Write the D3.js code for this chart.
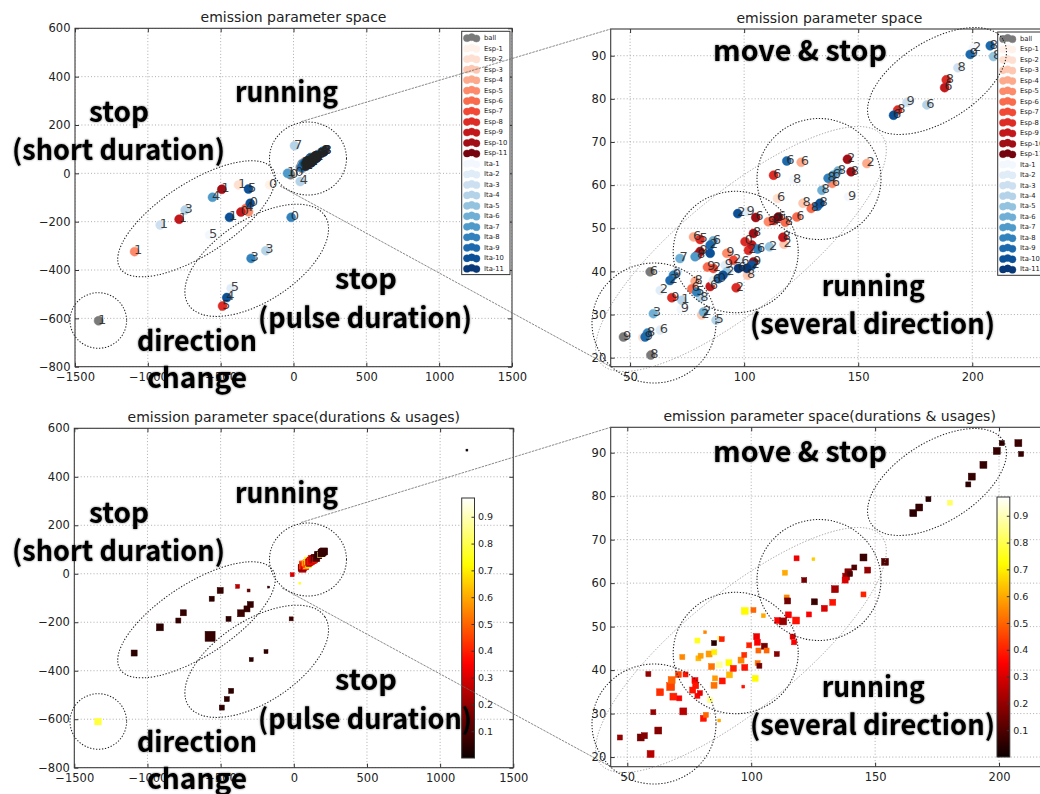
<!DOCTYPE html>
<html>
<head>
<meta charset="utf-8">
<script src="https://cdn.jsdelivr.net/npm/d3@7/dist/d3.min.js"></script>
<style>
  body { margin: 0; background: #fff; }
  svg { display: block; }
</style>
</head>
<body>
<svg id="fig" width="1040" height="794"></svg>
<script>
// ---------------- data ----------------
// emission points: [x, y, label]
const ballPoints = [
  [-1338, -610, "1"], [-20, -6, "0"], [58.8, 39.9, "6"], [47.1, 24.8, "9"], [59.1, 20.6, "8"]
];
// Esp series: [x, y, series index 1..11, label]
const espPoints = [
  [-1091, -324, 5, "1"], [-785, -190, 9, "1"], [-492, -66, 10, "1"], [-378, -48, 2, "1"],
  [-165, -48, 1, "0"], [-361, -160, 9, "0"], [-327, -145, 6, "4"], [-309, -159, 5, ""],
  [-487, -549, 8, "5"],
  [167.3, 77.4, 8, "8"], [187.9, 82.6, 9, "6"], [188.6, 84.4, 8, "8"], [112.9, 62.3, 8, "6"],
  [125.0, 65.3, 4, "6"], [145.3, 66.0, 10, "2"], [153.8, 65.0, 4, "2"], [146.9, 63.1, 10, "8"],
  [138.6, 60.4, 5, "6"], [129.4, 54.6, 6, "8"], [125.8, 55.8, 3, "8"], [123.1, 52.6, 6, "6"],
  [114.6, 56.9, 2, "6"], [105.1, 52.5, 10, "6"], [110.6, 51.5, 5, "9"], [115.0, 52.6, 11, "6"],
  [113.0, 51.8, 8, "2"], [118.0, 51.4, 6, "8"], [117.0, 47.9, 9, "8"], [117.5, 46.3, 3, "2"],
  [80.7, 47.4, 8, "5"], [77.8, 48.0, 4, "6"], [79.5, 43.8, 9, "8"], [80.7, 44.6, 10, "9"],
  [83.9, 41.0, 6, "9"], [86.5, 40.7, 7, "2"], [85.1, 36.5, 9, "6"], [78.5, 37.7, 4, "8"],
  [77.1, 36.0, 6, "6"], [68.3, 33.9, 8, "9"], [81.4, 29.9, 3, "2"], [55.6, 24.7, 2, ""],
  [96.5, 36.2, 8, "2"], [104.1, 48.8, 10, "8"], [103.4, 46.1, 9, ""], [100.4, 46.9, 8, "0"],
  [101.9, 44.9, 8, "2"], [104.1, 42.2, 10, "9"], [95.3, 42.6, 7, "2"], [101.5, 39.1, 3, "8"],
  [92.4, 44.2, 5, "9"]
];
// Ita series: [x, y, series index 1..11, label]
const itaPoints = [
  [-915, -214, 3, "1"], [-744, -152, 4, "3"], [-556, -99, 7, "4"], [-309, -65, 10, "5"],
  [-297, -124, 10, "0"], [-439, -182, 10, "1"], [-577, -255, 1, "5"], [-16, -182, 8, "0"],
  [-190, -320, 4, "3"], [-291, -352, 8, "3"], [-428, -476, 2, "5"], [-458, -514, 10, "4"],
  [7, 114, 4, "7"], [-41, 0, 7, "10"], [46, -34, 4, "4"],
  [165.5, 76.2, 10, "6"], [171.4, 79.2, 3, "9"], [180.1, 78.6, 4, "6"], [193.7, 87.2, 3, "8"],
  [199.1, 90.3, 9, "9"], [200.5, 91.8, 1, "2"], [207.9, 92.3, 9, "8"], [209.3, 89.8, 5, "8"],
  [118.7, 65.6, 9, "6"], [121.6, 61.2, 1, "8"], [141.2, 63.3, 6, "8"], [139.0, 62.3, 7, "6"],
  [136.8, 61.6, 8, "8"], [134.1, 58.8, 6, "8"], [145.7, 57.3, 1, "9"], [133.3, 55.8, 10, "8"],
  [132.1, 55.1, 9, ""], [111.1, 45.7, 5, "2"], [105.9, 45.2, 8, "6"], [97.2, 53.4, 10, "2"],
  [101.2, 53.8, 2, "9"], [85.1, 46.1, 9, "2"], [86.5, 47.1, 6, "6"], [85.1, 44.2, 10, ""],
  [71.9, 43.0, 6, "7"], [78.5, 43.4, 7, ""], [91.7, 41.4, 2, "9"], [92.4, 39.9, 5, "2"],
  [90.7, 39.1, 10, ""], [88.7, 38.3, 9, "0"], [86.5, 37.9, 2, "6"], [79.2, 35.2, 8, "5"],
  [81.0, 33.9, 4, "8"], [72.7, 33.3, 4, "1"], [72.4, 31.2, 1, "9"], [67.5, 37.9, 9, "2"],
  [69.0, 39.1, 8, "9"], [70.5, 39.9, 3, ""], [63.2, 35.6, 2, "2"], [60.2, 30.2, 6, "3"],
  [82.2, 30.6, 6, "2"], [87.7, 28.7, 4, "5"], [56.6, 24.8, 9, "9"], [57.6, 25.7, 8, "8"],
  [63.2, 26.4, 2, "6"], [97.5, 40.7, 11, "6"], [99.0, 42.2, 2, "6"], [103.4, 41.4, 10, "2"],
  [101.2, 40.7, 11, ""]
];
// durations & usages: [x, y, usage, duration]
const usagePoints = [
  [-1338, -610, 0.78, 0.35], [-1091, -327, 0.05, 0.30], [-915, -221, 0.05, 0.40],
  [-789, -193, 0.06, 0.21], [-755, -161, 0.06, 0.30], [-561, -103, 0.05, 0.21],
  [-503, -69, 0.06, 0.30], [-384, -52, 0.25, 0.13], [-309, -69, 0.12, 0.07],
  [-172, -55, 0.05, 0.03], [-361, -163, 0.07, 0.40], [-320, -145, 0.06, 0.30],
  [-297, -127, 0.06, 0.30], [-446, -186, 0.05, 0.21], [-572, -258, 0.06, 0.83],
  [-18, -186, 0.07, 0.13], [-190, -321, 0.05, 0.13], [-291, -354, 0.05, 0.13],
  [-428, -483, 0.05, 0.21], [-458, -517, 0.05, 0.21], [-492, -552, 0.05, 0.21],
  [1183, 510, 0.0, 0.03], [41, -39, 0.75, 0.03], [-11, -4, 0.3, 0.13],
  [47.0, 24.5, 0.2, 0.21], [55.4, 24.5, 0.15, 0.40], [56.9, 24.9, 0.18, 0.30],
  [59.4, 20.7, 0.25, 0.40], [62.5, 26.1, 0.18, 0.40], [60.5, 30.3, 0.2, 0.21],
  [58.5, 39.1, 0.2, 0.21], [63.2, 34.9, 0.42, 0.40], [67.5, 36.2, 0.45, 0.53],
  [67.9, 37.7, 0.5, 0.40], [68.6, 33.9, 0.4, 0.40], [71.0, 33.5, 0.35, 0.21],
  [70.6, 39.0, 0.45, 0.30], [72.6, 30.5, 0.25, 0.40], [73.5, 39.0, 0.38, 0.21],
  [77.3, 37.6, 0.35, 0.30], [77.6, 36.4, 0.38, 0.30], [76.4, 35.4, 0.38, 0.30],
  [78.3, 34.1, 0.35, 0.21], [79.3, 34.7, 0.32, 0.21], [80.7, 28.9, 0.38, 0.30],
  [81.7, 29.7, 0.5, 0.21], [83.4, 33.1, 0.85, 0.21], [87.1, 28.4, 0.6, 0.07],
  [72.2, 43.0, 0.55, 0.21], [78.3, 46.8, 0.75, 0.21], [81.4, 48.7, 0.55, 0.07],
  [78.7, 42.7, 0.62, 0.21], [79.6, 43.3, 0.58, 0.21], [83.0, 43.7, 0.58, 0.30],
  [85.1, 44.1, 0.7, 0.21], [85.0, 46.2, 0.05, 0.21], [87.1, 47.3, 0.85, 0.13],
  [88.1, 47.1, 0.4, 0.21], [84.0, 40.8, 0.52, 0.30], [87.1, 41.2, 0.88, 0.30],
  [85.4, 38.1, 0.58, 0.21], [85.0, 36.5, 0.52, 0.30], [88.3, 37.5, 0.38, 0.30],
  [91.0, 41.7, 0.72, 0.30], [91.2, 38.9, 0.62, 0.30], [92.8, 40.4, 0.4, 0.30],
  [95.9, 42.3, 0.55, 0.30], [97.2, 43.5, 0.42, 0.21], [97.4, 40.6, 0.38, 0.30],
  [96.8, 36.2, 0.38, 0.07], [97.4, 53.6, 0.72, 0.40], [100.9, 53.8, 0.5, 0.21],
  [99.2, 45.7, 0.4, 0.21], [101.6, 38.1, 0.72, 0.30], [102.2, 47.7, 0.33, 0.30],
  [102.5, 46.4, 0.35, 0.30], [102.9, 44.5, 0.5, 0.21], [102.6, 41.6, 0.52, 0.21],
  [103.3, 41.0, 0.15, 0.21], [105.3, 45.5, 0.15, 0.30], [106.2, 44.5, 0.5, 0.21],
  [104.9, 52.5, 0.6, 0.13], [110.3, 43.7, 0.18, 0.21], [113.6, 62.4, 0.6, 0.21],
  [114.3, 56.7, 0.55, 0.21], [114.7, 55.9, 0.15, 0.30], [110.7, 51.4, 0.35, 0.30],
  [112.9, 51.2, 0.2, 0.40], [115.0, 52.7, 0.35, 0.30], [118.1, 51.4, 0.38, 0.40],
  [116.7, 47.7, 0.3, 0.21], [117.3, 46.4, 0.35, 0.21], [118.3, 65.7, 0.33, 0.21],
  [125.1, 65.5, 0.65, 0.07], [121.4, 60.7, 0.15, 0.21], [125.5, 55.7, 0.07, 0.30],
  [123.3, 52.8, 0.35, 0.21], [129.5, 54.2, 0.3, 0.30], [132.9, 55.6, 0.38, 0.30],
  [133.8, 58.6, 0.22, 0.40], [138.3, 61.5, 0.22, 0.40], [139.2, 62.5, 0.18, 0.40],
  [139.9, 62.1, 0.1, 0.21], [137.9, 60.7, 0.3, 0.30], [141.6, 63.6, 0.1, 0.21],
  [145.3, 65.9, 0.07, 0.40], [147.0, 63.0, 0.2, 0.30], [145.3, 57.4, 0.4, 0.21],
  [154.0, 64.9, 0.1, 0.40],
  [165.4, 76.1, 0.05, 0.40], [167.8, 77.4, 0.06, 0.40], [171.5, 79.3, 0.04, 0.21],
  [180.2, 78.5, 0.82, 0.21], [187.6, 82.7, 0.05, 0.21], [189.0, 84.5, 0.06, 0.40],
  [193.7, 87.2, 0.06, 0.40], [199.1, 90.4, 0.06, 0.40], [201.1, 92.2, 0.05, 0.21],
  [207.8, 92.2, 0.07, 0.40], [208.9, 89.7, 0.06, 0.21]
];

const seriesIndex = d3.range(1, 12);
const legendNames = ["ball"].concat(seriesIndex.map(k => "Esp-" + k), seriesIndex.map(k => "Ita-" + k));
const xTicksWide = [-1500, -1000, -500, 0, 500, 1000, 1500];
const yTicksWide = [-800, -600, -400, -200, 0, 200, 400, 600];
const xTicksZoom = [50, 100, 150, 200];
const yTicksZoom = [20, 30, 40, 50, 60, 70, 80, 90];
const usageTicks = [0.1, 0.2, 0.3, 0.4, 0.5, 0.6, 0.7, 0.8, 0.9];
const usageDomain = [0, 0.97];

// ---------------- colours ----------------
const ballColor = "#7a7a7a";
const espColor = k => d3.interpolateReds(0.02 + (k - 1) * 0.095);
const itaColor = k => d3.interpolateBlues(0.02 + (k - 1) * 0.095);
function hot(v) {
  const t = Math.max(0, Math.min(1, (v - usageDomain[0]) / (usageDomain[1] - usageDomain[0])));
  const r = t < 0.365079 ? 0.0416 + t / 0.365079 * (1 - 0.0416) : 1;
  const g = t < 0.365079 ? 0 : t < 0.746032 ? (t - 0.365079) / (0.746032 - 0.365079) : 1;
  const b = t < 0.746032 ? 0 : (t - 0.746032) / (1 - 0.746032);
  return d3.rgb(r * 255, g * 255, b * 255).formatHex();
}
const sideScale = d3.scaleSqrt().domain([0, 1]).range([0, 11]);
const tickFmt = d3.format("d");

// ---------------- layout ----------------
const svg = d3.select("#fig");
const defs = svg.append("defs");
const soft = defs.append("filter").attr("id", "soft")
  .attr("x", "-5%").attr("y", "-25%").attr("width", "110%").attr("height", "150%");
soft.append("feGaussianBlur").attr("in", "SourceAlpha").attr("stdDeviation", 0.9).attr("result", "b");
soft.append("feComponentTransfer").attr("in", "b").attr("result", "b2")
  .append("feFuncA").attr("type", "linear").attr("slope", 0.55);
const merge = soft.append("feMerge");
merge.append("feMergeNode").attr("in", "b2");
merge.append("feMergeNode").attr("in", "SourceGraphic");

const panels = [
  { key: "tl", left: 75, right: 512, top: 28.3, bottom: 366.7, xd: [-1500, 1500], yd: [-800, 600],
    xt: xTicksWide, yt: yTicksWide, title: "emission parameter space", kind: "circles" },
  { key: "tr", left: 610.7, right: 1048, top: 29, bottom: 366.7, xd: [41.5, 233.2], yd: [17.91, 96.19],
    xt: xTicksZoom, yt: yTicksZoom, title: "emission parameter space", kind: "circles" },
  { key: "bl", left: 74.3, right: 513.3, top: 428.3, bottom: 767.7, xd: [-1500, 1500], yd: [-800, 600],
    xt: xTicksWide, yt: yTicksWide, title: "emission parameter space(durations & usages)", kind: "squares" },
  { key: "br", left: 610.7, right: 1048.6, top: 427.3, bottom: 766.7, xd: [43.3, 220.0], yd: [17.78, 95.84],
    xt: xTicksZoom, yt: yTicksZoom, title: "emission parameter space(durations & usages)", kind: "squares" }
];

const circleMarks = [
  ...ballPoints.map(([x, y, lab]) => ({ x, y, lab, order: 0, color: ballColor })),
  ...espPoints.map(([x, y, k, lab]) => ({ x, y, lab, order: k, color: espColor(k) })),
  ...itaPoints.map(([x, y, k, lab]) => ({ x, y, lab, order: 11 + k, color: itaColor(k) }))
].sort((a, b) => a.order - b.order);

const legendColors = [ballColor].concat(seriesIndex.map(espColor), seriesIndex.map(itaColor));

function drawPanel(P) {
  const x = d3.scaleLinear().domain(P.xd).range([P.left, P.right]);
  const y = d3.scaleLinear().domain(P.yd).range([P.bottom, P.top]);
  const g = svg.append("g");
  const clipId = "clip-" + P.key;
  defs.append("clipPath").attr("id", clipId).append("rect")
    .attr("x", P.left).attr("y", P.top).attr("width", P.right - P.left).attr("height", P.bottom - P.top);

  g.append("rect").attr("x", P.left).attr("y", P.top)
    .attr("width", P.right - P.left).attr("height", P.bottom - P.top).attr("fill", "#fff");

  // dotted grid
  const grid = g.append("g").attr("stroke", "#a4a4a4").attr("stroke-width", 0.9)
    .attr("stroke-dasharray", "1,2.2").attr("clip-path", `url(#${clipId})`);
  P.xt.forEach(v => grid.append("line").attr("x1", x(v)).attr("x2", x(v)).attr("y1", P.top).attr("y2", P.bottom));
  P.yt.forEach(v => grid.append("line").attr("y1", y(v)).attr("y2", y(v)).attr("x1", P.left).attr("x2", P.right));

  const plot = g.append("g").attr("clip-path", `url(#${clipId})`);
  if (P.kind === "circles") {
    plot.append("g").selectAll("circle").data(circleMarks).join("circle")
      .attr("cx", d => x(d.x)).attr("cy", d => y(d.y)).attr("r", 4.5)
      .attr("fill", d => d.color).attr("stroke", d => d.color).attr("stroke-width", 0.5);
    plot.append("g").selectAll("text").data(circleMarks.filter(d => d.lab !== "")).join("text")
      .attr("x", d => x(d.x) - 0.5).attr("y", d => y(d.y) + 2.8)
      .attr("font-family", "DejaVu Sans, sans-serif").attr("font-size", 13)
      .attr("fill", "#222").attr("fill-opacity", 0.85).text(d => d.lab);
  } else {
    plot.append("g").selectAll("rect").data(usagePoints).join("rect")
      .attr("x", d => x(d[0]) - sideScale(d[3]) / 2).attr("y", d => y(d[1]) - sideScale(d[3]) / 2)
      .attr("width", d => sideScale(d[3])).attr("height", d => sideScale(d[3]))
      .attr("fill", d => hot(d[2])).attr("stroke", d => hot(d[2])).attr("stroke-width", 0.5);
  }

  // axes with inward ticks on all four sides
  const styleAxis = a => {
    a.select(".domain").remove();
    a.attr("color", "#333").attr("font-family", "DejaVu Sans, sans-serif").attr("font-size", 11.5);
    a.selectAll("text").attr("fill", "#222");
  };
  g.append("g").attr("transform", `translate(0,${P.bottom})`)
    .call(d3.axisBottom(x).tickValues(P.xt).tickFormat(tickFmt).tickSizeInner(-4).tickSizeOuter(0).tickPadding(6))
    .call(styleAxis);
  g.append("g").attr("transform", `translate(${P.left},0)`)
    .call(d3.axisLeft(y).tickValues(P.yt).tickFormat(tickFmt).tickSizeInner(-4).tickSizeOuter(0).tickPadding(4.5))
    .call(styleAxis);
  g.append("g").attr("transform", `translate(0,${P.top})`)
    .call(d3.axisTop(x).tickValues(P.xt).tickSizeInner(-4).tickSizeOuter(0).tickFormat("")).call(styleAxis);
  g.append("g").attr("transform", `translate(${P.right},0)`)
    .call(d3.axisRight(y).tickValues(P.yt).tickSizeInner(-4).tickSizeOuter(0).tickFormat("")).call(styleAxis);

  g.append("rect").attr("x", P.left).attr("y", P.top)
    .attr("width", P.right - P.left).attr("height", P.bottom - P.top)
    .attr("fill", "none").attr("stroke", "#3a3a3a").attr("stroke-width", 1.1);

  g.append("text").attr("x", (P.left + P.right) / 2).attr("y", P.top - 6)
    .attr("text-anchor", "middle").attr("font-family", "DejaVu Sans, sans-serif")
    .attr("font-size", 14).attr("fill", "#222").text(P.title);

  if (P.kind === "circles") drawLegend(g, P);
  else drawColorbar(g, P);
}

function drawLegend(g, P) {
  const bx = P.right - 50.3, by = P.top + 3, bw = 48.3, bh = 243.3;
  const lg = g.append("g");
  lg.append("rect").attr("x", bx).attr("y", by).attr("width", bw).attr("height", bh)
    .attr("fill", "#fff").attr("stroke", "#333").attr("stroke-width", 1);
  const step = 10.48;
  legendNames.forEach((name, i) => {
    const cy = by + 6.3 + i * step;
    [[5.3, 0.6], [10.0, -0.4], [14.7, 0.9]].forEach(([dx, dy]) => {
      lg.append("circle").attr("cx", bx + dx).attr("cy", cy + dy).attr("r", 3.6)
        .attr("fill", legendColors[i]).attr("stroke", legendColors[i]).attr("stroke-width", 0.4);
    });
    lg.append("text").attr("x", bx + 22.3).attr("y", cy + 2.5)
      .attr("font-family", "DejaVu Sans, sans-serif").attr("font-size", 6.8)
      .attr("fill", "#222").text(name);
  });
}

function drawColorbar(g, P) {
  const cx = P.right - 51.6, cw = 12.8, y0 = P.top + 69.7, y1 = P.bottom - 9.7;
  const cs = d3.scaleLinear().domain(usageDomain).range([y1, y0]);
  const gid = "hotgrad-" + P.key;
  const grad = defs.append("linearGradient").attr("id", gid)
    .attr("x1", 0).attr("y1", 1).attr("x2", 0).attr("y2", 0);
  d3.range(0, 1.0001, 0.02).forEach(t => {
    grad.append("stop").attr("offset", t)
      .attr("stop-color", hot(usageDomain[0] + t * (usageDomain[1] - usageDomain[0])));
  });
  g.append("rect").attr("x", cx).attr("y", y0).attr("width", cw).attr("height", y1 - y0)
    .attr("fill", `url(#${gid})`).attr("stroke", "#333").attr("stroke-width", 1);
  const ax = g.append("g").attr("transform", `translate(${cx + cw},0)`)
    .call(d3.axisRight(cs).tickValues(usageTicks).tickSizeInner(-3).tickSizeOuter(0).tickPadding(3.5)
      .tickFormat(d3.format(".1f")));
  ax.select(".domain").remove();
  ax.attr("color", "#333").attr("font-family", "DejaVu Sans, sans-serif").attr("font-size", 9.5);
  ax.selectAll("text").attr("fill", "#222");
}

panels.forEach(drawPanel);

// ---------------- annotation overlay ----------------
const rowShift = [0, 401];
const leftRings = [
  { cx: 308, cy: 158.5, rx: 38.5, ry: 36.5, rot: 0 },
  { cx: 196.5, cy: 218.8, rx: 91, ry: 36, rot: -33 },
  { cx: 256.7, cy: 260.3, rx: 81.4, ry: 41, rot: -33 },
  { cx: 98.3, cy: 320.5, rx: 28.3, ry: 27.8, rot: 0 }
];
const rightRings = [
  { cx: 937, cy: 81, rx: 78, ry: 40, rot: -32 },
  { cx: 819, cy: 179, rx: 62, ry: 60.5, rot: 0 },
  { cx: 735.7, cy: 252, rx: 62.5, ry: 60.7, rot: 0 },
  { cx: 654, cy: 323, rx: 62, ry: 60, rot: 0 }
];
const wideRing = { cx: 741, cy: 249, rx: 181, ry: 58, rot: -39 };
const captions = [
  ["running", 235, 101.5, 103], ["stop", 89, 122.3, 60], ["(short duration)", 12, 160, 213],
  ["stop", 335, 289, 62], ["(pulse duration)", 258, 327.5, 214], ["direction", 137, 350.5, 120],
  ["change", 147, 388, 100],
  ["move & stop", 713, 61, 174], ["running", 821.7, 296, 103], ["(several direction)", 750, 334, 245]
];
const zoomGuides = [
  [[301, 121.7], [610.7, 29]], [[280, 186], [610.7, 366.7]],
  [[301, 522.5], [610.7, 427.3]], [[282, 588], [610.7, 766.7]]
];

const over = svg.append("g");
zoomGuides.forEach(([a, b]) => {
  over.append("line").attr("x1", a[0]).attr("y1", a[1]).attr("x2", b[0]).attr("y2", b[1])
    .attr("stroke", "#6a6a6a").attr("stroke-width", 0.8).attr("stroke-dasharray", "2.5,1");
});
rowShift.forEach(dy => {
  const rg = over.append("g").attr("transform", `translate(0,${dy})`);
  rg.append("ellipse").attr("transform", `translate(${wideRing.cx},${wideRing.cy}) rotate(${wideRing.rot})`)
    .attr("rx", wideRing.rx).attr("ry", wideRing.ry)
    .attr("fill", "none").attr("stroke", "#8a8a8a").attr("stroke-width", 0.8).attr("stroke-dasharray", "1.2,1.8");
  leftRings.concat(rightRings).forEach(e => {
    rg.append("ellipse").attr("transform", `translate(${e.cx},${e.cy}) rotate(${e.rot})`)
      .attr("rx", e.rx).attr("ry", e.ry)
      .attr("fill", "none").attr("stroke", "#222").attr("stroke-width", 1.05).attr("stroke-dasharray", "1.3,1.7");
  });
  captions.forEach(([txt, x0, yb, w]) => {
    rg.append("text").attr("x", x0).attr("y", yb)
      .attr("font-family", "'Noto Sans CJK JP', 'Noto Sans', sans-serif").attr("font-weight", 700)
      .attr("font-size", 28).attr("fill", "#000")
      .attr("textLength", w).attr("lengthAdjust", "spacingAndGlyphs")
      .attr("filter", "url(#soft)").text(txt);
  });
});
</script>
</body>
</html>
